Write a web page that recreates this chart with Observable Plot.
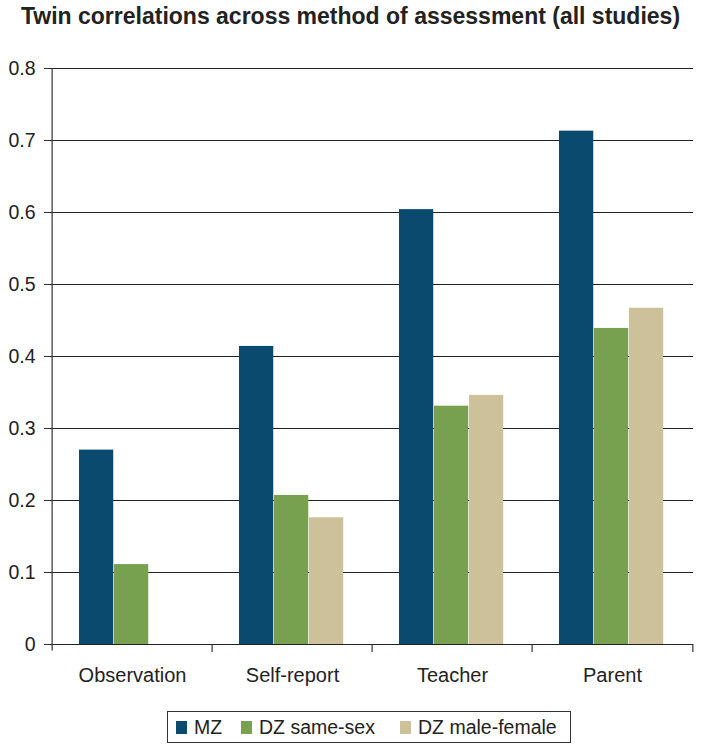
<!DOCTYPE html>
<html>
<head>
<meta charset="utf-8">
<script src="https://cdn.jsdelivr.net/npm/d3@7"></script>
<script src="https://cdn.jsdelivr.net/npm/@observablehq/plot@0.6"></script>
<style>
  html, body { margin: 0; padding: 0; background: #fff; }
  #wrap { position: relative; width: 701px; height: 750px; font-family: "Liberation Sans", Arial, sans-serif; color: #222; }
  #title { position: absolute; left: 0; top: 3px; width: 701px; text-align: center; font-family: "Liberation Sans Narrow", "Liberation Sans", Arial, sans-serif; font-weight: bold; font-size: 23px; color: #222; }
  #chart { position: absolute; left: 0; top: 50px; }
  #legend { position: absolute; left: 167px; top: 711px; width: 404px; height: 32px; border: 1.5px solid #333; box-sizing: border-box; font-size: 19.5px; color: #222; }
  .item { display: flex; align-items: center; position: absolute; top: 0; height: 100%; }
  .sw { width: 11px; height: 13px; margin-right: 7px; }
</style>
</head>
<body>
<div id="wrap">
  <div id="title">Twin correlations across method of assessment (all studies)</div>
  <div id="chart"></div>
  <div id="legend"></div>
</div>
<script>
const categories = ["Observation", "Self-report", "Teacher", "Parent"];
const seriesNames = ["MZ", "DZ same-sex", "DZ male-female"];
const mz = [0.270, 0.414, 0.604, 0.713];
const dzSame = [0.111, 0.207, 0.331, 0.439];
const dzMaleFemale = [null, 0.176, 0.346, 0.467];
const yTicks = [0, 0.1, 0.2, 0.3, 0.4, 0.5, 0.6, 0.7, 0.8];
const colors = ["#0b4a6f", "#77a04f", "#cdc19c"];

const W = 701, mL = 50, mR = 8;
const step = (W - mL - mR) / categories.length;
const barW = 35;
const groupStart = 27;
const series = [mz, dzSame, dzMaleFemale];

const barMarks = series.map((vals, s) => Plot.barY(categories, {
  x: d => d,
  y: (d, i) => vals[i],
  fill: colors[s],
  insetLeft: groupStart + s * barW,
  insetRight: step - groupStart - (s + 1) * barW
}));

const plot = Plot.plot({
  width: W,
  height: 650,
  marginLeft: mL,
  marginRight: mR,
  marginTop: 18,
  marginBottom: 56,
  style: { fontFamily: "'Liberation Sans', Arial, sans-serif", fontSize: "19px", color: "#222", background: "#fff" },
  x: { type: "band", domain: categories, padding: 0 },
  y: { domain: [0, 0.8] },
  marks: [
    Plot.ruleY(yTicks, { stroke: "#222", strokeWidth: 1.2 }),
    ...barMarks,
    Plot.ruleY([0], { stroke: "#222", strokeWidth: 1.2 }),
    Plot.ruleX([0], { x: () => categories[0], dx: -step / 2, y1: -0.009, y2: 0.8, stroke: "#333", strokeWidth: 1.2 }),
    Plot.ruleX(categories.slice(1), { x: d => d, dx: -step / 2, y1: 0, y2: -0.011, stroke: "#333", strokeWidth: 1.2 }),
    Plot.ruleX([categories[categories.length - 1]], { x: d => d, dx: step / 2, y1: 0, y2: -0.011, stroke: "#333", strokeWidth: 1.2 }),
    Plot.axisY({ ticks: yTicks, tickSize: 6, tickPadding: 9, tickFormat: d => d === 0 ? "0" : d.toFixed(1), stroke: "#333", fontSize: 19.5, label: null }),
    Plot.axisX({ tickSize: 0, tickPadding: 23, fontSize: 20, label: null })
  ]
});
document.getElementById("chart").appendChild(plot);

const legend = document.getElementById("legend");
const offsets = [8, 73, 232];
seriesNames.forEach((name, i) => {
  const it = document.createElement("div");
  it.className = "item";
  it.style.left = offsets[i] + "px";
  const sw = document.createElement("span");
  sw.className = "sw";
  sw.style.background = colors[i];
  const t = document.createElement("span");
  t.textContent = name;
  it.appendChild(sw);
  it.appendChild(t);
  legend.appendChild(it);
});
</script>
</body>
</html>
